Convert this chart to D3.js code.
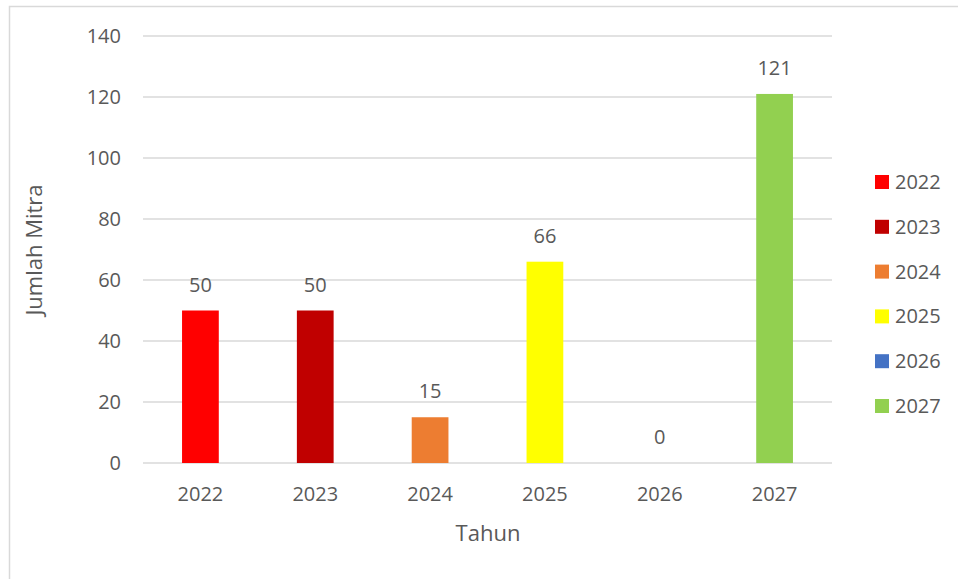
<!DOCTYPE html>
<html>
<head>
<meta charset="utf-8">
<script src="https://cdn.jsdelivr.net/npm/d3@7"></script>
<style>
  body { margin: 0; background: #fff; }
  svg text { font-family: "Open Sans", "Liberation Sans", sans-serif; fill: #595959; }
</style>
</head>
<body>
<div id="chart"></div>
<script>
var years = ['2022', '2023', '2024', '2025', '2026', '2027'];
var values = [50, 50, 15, 66, 0, 121];
var colors = ['#ff0000', '#c00000', '#ed7d31', '#ffff00', '#4472c4', '#92d050'];
var yTicks = [0, 20, 40, 60, 80, 100, 120, 140];

var width = 958, height = 579;

var svg = d3.select('#chart').append('svg')
    .attr('width', width)
    .attr('height', height);

// chart frame (only top and left edges are visible in the crop)
svg.append('path')
    .attr('d', 'M9.5,' + height + 'V6.5H' + width)
    .style('fill', 'none')
    .style('stroke', '#d9d9d9')
    .style('stroke-width', 1.5);

var x = d3.scaleBand()
    .domain(years)
    .range([143, 832])
    .paddingInner(0.68)
    .paddingOuter(0.34);

var y = d3.scaleLinear()
    .domain([0, 140])
    .range([463, 36]);

// gridlines
svg.selectAll('.grid')
    .data(yTicks)
    .enter()
    .append('line')
    .attr('class', 'grid')
    .attr('x1', 143)
    .attr('x2', 832)
    .attr('y1', function(d) { return y(d); })
    .attr('y2', function(d) { return y(d); })
    .style('stroke', '#d9d9d9')
    .style('stroke-width', 1.5);

// y tick labels
svg.selectAll('.ytick')
    .data(yTicks)
    .enter()
    .append('text')
    .attr('class', 'ytick')
    .attr('x', 121)
    .attr('y', function(d) { return y(d); })
    .attr('dy', '0.35em')
    .style('text-anchor', 'end')
    .style('font-size', '20px')
    .text(function(d) { return d; });

// bars
svg.selectAll('.bar')
    .data(values)
    .enter()
    .append('rect')
    .attr('class', 'bar')
    .attr('x', function(d, i) { return x(years[i]); })
    .attr('width', x.bandwidth())
    .attr('y', function(d) { return y(d); })
    .attr('height', function(d) { return y(0) - y(d); })
    .style('fill', function(d, i) { return colors[i]; });

// value labels
svg.selectAll('.val')
    .data(values)
    .enter()
    .append('text')
    .attr('class', 'val')
    .attr('x', function(d, i) { return x(years[i]) + x.bandwidth() / 2; })
    .attr('y', function(d) { return y(d) - 26; })
    .attr('dy', '0.35em')
    .style('text-anchor', 'middle')
    .style('font-size', '20px')
    .text(function(d) { return d; });

// x tick labels
svg.selectAll('.xtick')
    .data(years)
    .enter()
    .append('text')
    .attr('class', 'xtick')
    .attr('x', function(d) { return x(d) + x.bandwidth() / 2; })
    .attr('y', 494)
    .attr('dy', '0.35em')
    .style('text-anchor', 'middle')
    .style('font-size', '20px')
    .text(function(d) { return d; });

// axis titles
svg.append('text')
    .attr('x', 488)
    .attr('y', 533)
    .attr('dy', '0.35em')
    .style('text-anchor', 'middle')
    .style('font-size', '22px')
    .text('Tahun');

svg.append('text')
    .attr('transform', 'translate(34,250) rotate(-90)')
    .attr('dy', '0.35em')
    .style('text-anchor', 'middle')
    .style('font-size', '22px')
    .text('Jumlah Mitra');

// legend
var legend = svg.selectAll('.legend')
    .data(years)
    .enter()
    .append('g')
    .attr('class', 'legend')
    .attr('transform', function(d, i) { return 'translate(875,' + (182 + i * 44.8) + ')'; });

legend.append('rect')
    .attr('x', 0)
    .attr('y', -7)
    .attr('width', 14)
    .attr('height', 14)
    .style('fill', function(d, i) { return colors[i]; });

legend.append('text')
    .attr('x', 20)
    .attr('y', 0)
    .attr('dy', '0.35em')
    .style('font-size', '20px')
    .text(function(d) { return d; });
</script>
</body>
</html>
